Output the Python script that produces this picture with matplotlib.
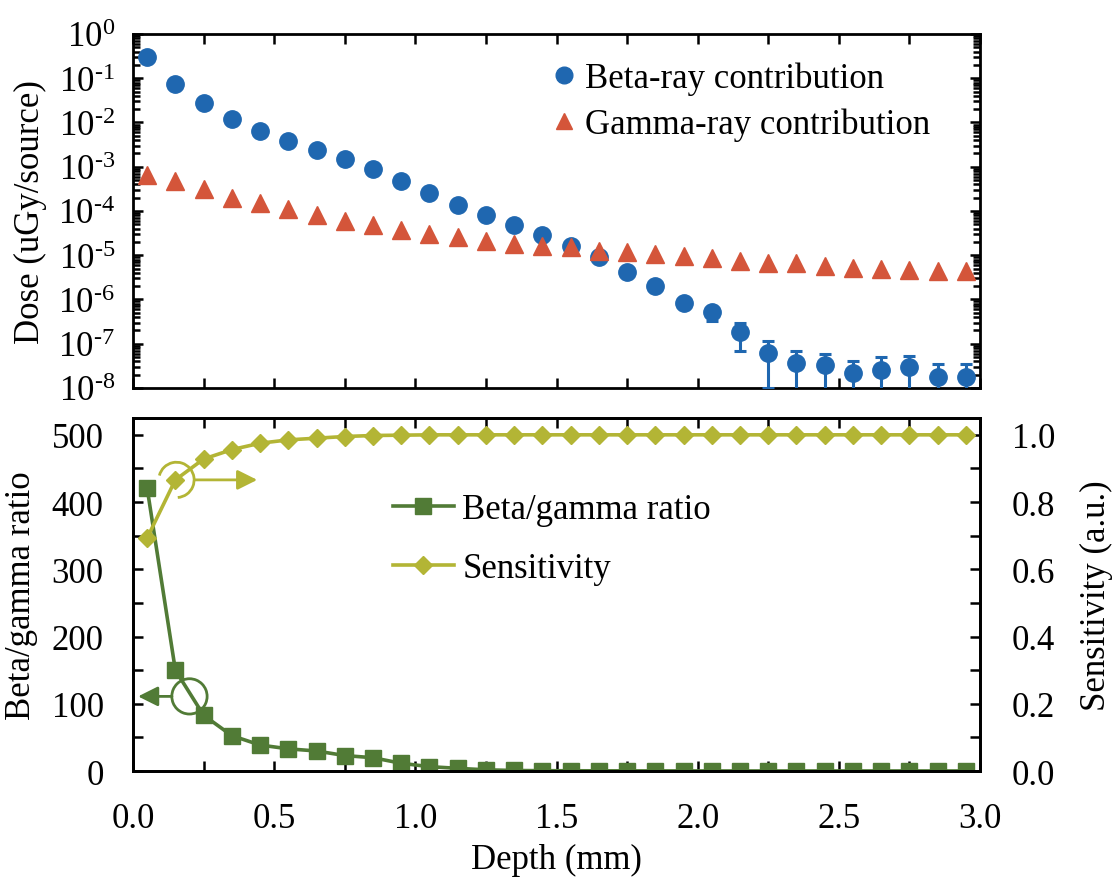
import numpy as np
import matplotlib
matplotlib.use("Agg")
import matplotlib.pyplot as plt
from matplotlib.patches import Arc
from matplotlib.lines import Line2D
from matplotlib.ticker import MultipleLocator, LogLocator, NullFormatter, FuncFormatter

plt.rcParams['font.family'] = ['Liberation Serif', 'DejaVu Serif']
plt.rcParams['mathtext.fontset'] = 'custom'
plt.rcParams['mathtext.rm'] = 'Liberation Serif'
plt.rcParams['mathtext.it'] = 'Liberation Serif:italic'

# depth bins (mm)
depth = [0.05, 0.15, 0.25, 0.35, 0.45, 0.55, 0.65, 0.75, 0.85, 0.95,
         1.05, 1.15, 1.25, 1.35, 1.45, 1.55, 1.65, 1.75, 1.85, 1.95,
         2.05, 2.15, 2.25, 2.35, 2.45, 2.55, 2.65, 2.75, 2.85, 2.95]

beta_dose = [2.97e-1, 7.4e-2, 2.7e-2, 1.2e-2, 6.3e-3, 3.8e-3, 2.4e-3, 1.5e-3, 8.9e-4, 4.8e-4,
             2.5e-4, 1.4e-4, 8.0e-5, 4.8e-5, 2.9e-5, 1.65e-5, 8.9e-6, 4.2e-6, 2.0e-6, 8.3e-7,
             5.1e-7, 1.8e-7, 6.2e-8, 3.6e-8, 3.3e-8, 2.2e-8, 2.6e-8, 2.9e-8, 1.74e-8, 1.8e-8]
beta_err = [0, 0, 0, 0, 0, 0, 0, 0, 0, 0,
            0, 0, 0, 0, 0, 0, 0, 0, 1.5e-7, 1.0e-7,
            1.8e-7, 1.1e-7, 5.2e-8, 3.1e-8, 2.6e-8, 1.8e-8, 2.4e-8, 2.4e-8, 1.66e-8, 1.7e-8]

gamma_dose = [6.5e-4, 4.8e-4, 3.2e-4, 2.0e-4, 1.5e-4, 1.1e-4, 8.2e-5, 6.0e-5, 4.7e-5, 3.8e-5,
              3.0e-5, 2.6e-5, 2.1e-5, 1.8e-5, 1.6e-5, 1.5e-5, 1.27e-5, 1.17e-5, 1.07e-5, 9.5e-6,
              8.5e-6, 7.5e-6, 6.6e-6, 6.6e-6, 5.8e-6, 5.2e-6, 4.9e-6, 4.6e-6, 4.3e-6, 4.3e-6]

ratio = [421, 150, 83, 52.6, 38.7, 33, 29.8, 23, 19.8, 11.5,
         6.5, 4, 1.8, 0.8, 0.5, 0.4, 0.3, 0.25, 0.2, 0.15,
         0.1, 0.1, 0.1, 0.1, 0.1, 0.1, 0.1, 0.1, 0.1, 0.1]

sensitivity = [0.693, 0.866, 0.928, 0.956, 0.975, 0.985, 0.99, 0.995, 0.998, 0.999,
               1.0, 1.0, 1.0, 1.0, 1.0, 1.0, 1.0, 1.0, 1.0, 1.0,
               1.0, 1.0, 1.0, 1.0, 1.0, 1.0, 1.0, 1.0, 1.0, 1.0]

blue = '#1f67b0'
orange = '#d4553a'
green = '#517b36'
olive = '#b3b535'
fs = 25

fig = plt.figure(figsize=(11.13, 8.79), dpi=100)
ax1 = fig.add_axes([0.1195, 0.5575, 0.761, 0.4027])
ax2 = fig.add_axes([0.1195, 0.1217, 0.761, 0.4016])
ax2r = ax2.twinx()

# ---- top panel: dose ----
ax1.errorbar(depth, beta_dose, yerr=beta_err, fmt='o', color=blue, ms=12.5,
             elinewidth=2.2, capsize=4.5, capthick=2.2, zorder=3)
ax1.plot(depth, gamma_dose, '^', color=orange, ms=12.5, zorder=4)
ax1.set_yscale('log')
ax1.set_ylim(1e-8, 1)
ax1.set_xlim(0, 3)
ax1.yaxis.set_major_locator(LogLocator(base=10, numticks=20))
ax1.yaxis.set_minor_locator(LogLocator(base=10, subs=np.arange(2, 10), numticks=20))
ax1.yaxis.set_minor_formatter(NullFormatter())
ax1.yaxis.set_major_formatter(
    FuncFormatter(lambda v, p: r'$10^{\text{%d}}$' % int(round(np.log10(v)))))
ax1.xaxis.set_major_locator(MultipleLocator(0.25))
ax1.set_xticklabels([])
ax1.set_ylabel('Dose (uGy/source)', fontsize=fs, labelpad=8)

h_beta = Line2D([], [], ls='none', marker='o', color=blue, ms=12)
h_gamma = Line2D([], [], ls='none', marker='^', color=orange, ms=12)
ax1.legend([h_beta, h_gamma], ['Beta-ray contribution', 'Gamma-ray contribution'],
           loc='upper left', bbox_to_anchor=(0.46, 1.01), frameon=False,
           fontsize=fs, handlelength=0.6, handletextpad=0.3, labelspacing=0.35)

# ---- bottom panel: ratio and sensitivity ----
ax2.plot(depth, ratio, '-s', color=green, lw=2.6, ms=11, label='Beta/gamma ratio')
ax2r.plot(depth, sensitivity, '-D', color=olive, lw=2.6, ms=9.5, label='Sensitivity')
ax2.set_xlim(0, 3)
ax2.set_ylim(0, 525)
ax2r.set_ylim(0, 1.05)
ax2.xaxis.set_major_locator(MultipleLocator(0.5))
ax2.xaxis.set_minor_locator(MultipleLocator(0.25))
ax2.xaxis.set_major_formatter(FuncFormatter(lambda v, p: '%.1f' % v))
ax2.yaxis.set_major_locator(MultipleLocator(100))
ax2.yaxis.set_minor_locator(MultipleLocator(50))
ax2r.yaxis.set_major_locator(MultipleLocator(0.2))
ax2r.yaxis.set_minor_locator(MultipleLocator(0.1))
ax2r.yaxis.set_major_formatter(FuncFormatter(lambda v, p: '%.1f' % v))
ax2.set_xlabel('Depth (mm)', fontsize=fs, labelpad=6)
ax2.set_ylabel('Beta/gamma ratio', fontsize=fs, labelpad=10)
ax2r.set_ylabel('Sensitivity (a.u.)', fontsize=fs, labelpad=18)

h2, l2 = ax2.get_legend_handles_labels()
h3, l3 = ax2r.get_legend_handles_labels()
ax2r.legend(h2 + h3, l2 + l3, loc='upper left', bbox_to_anchor=(0.27, 0.875), frameon=False,
            fontsize=fs, handlelength=1.75, handletextpad=0.25, labelspacing=0.75)

# annotation circles and arrows
ax2r.add_patch(Arc((0.154, 0.866), 0.125, 0.105, theta1=-85, theta2=168,
                   color=olive, lw=2, zorder=5))
ax2r.annotate('', xy=(0.44, 0.866), xytext=(0.218, 0.866),
              arrowprops=dict(arrowstyle='-|>', color=olive, lw=2,
                              mutation_scale=30, shrinkA=0, shrinkB=0))
ax2.add_patch(Arc((0.20, 111), 0.125, 52.5, theta1=-135, theta2=100,
                  color=green, lw=2, zorder=5))
ax2.annotate('', xy=(0.018, 111), xytext=(0.138, 111),
             arrowprops=dict(arrowstyle='-|>', color=green, lw=2,
                             mutation_scale=30, shrinkA=0, shrinkB=0))

for ax in (ax1, ax2, ax2r):
    for sp in ax.spines.values():
        sp.set_linewidth(2)
    ax.tick_params(which='both', direction='in', labelsize=fs, width=1.8)
    ax.tick_params(which='major', length=7)
    ax.tick_params(which='minor', length=5)
ax1.tick_params(which='both', top=True, right=True)
ax1.tick_params(axis='y', which='major', pad=13)
ax2.tick_params(which='both', top=True, right=False)
ax2.tick_params(axis='x', which='minor', length=7)
ax2.tick_params(axis='x', which='major', pad=22)
ax2.tick_params(axis='y', which='minor', length=7)
ax2.tick_params(axis='y', which='major', pad=21)
ax2r.tick_params(axis='y', which='minor', length=7)
ax2r.tick_params(axis='y', which='major', pad=23)

fig.savefig('out.png', dpi=100)
